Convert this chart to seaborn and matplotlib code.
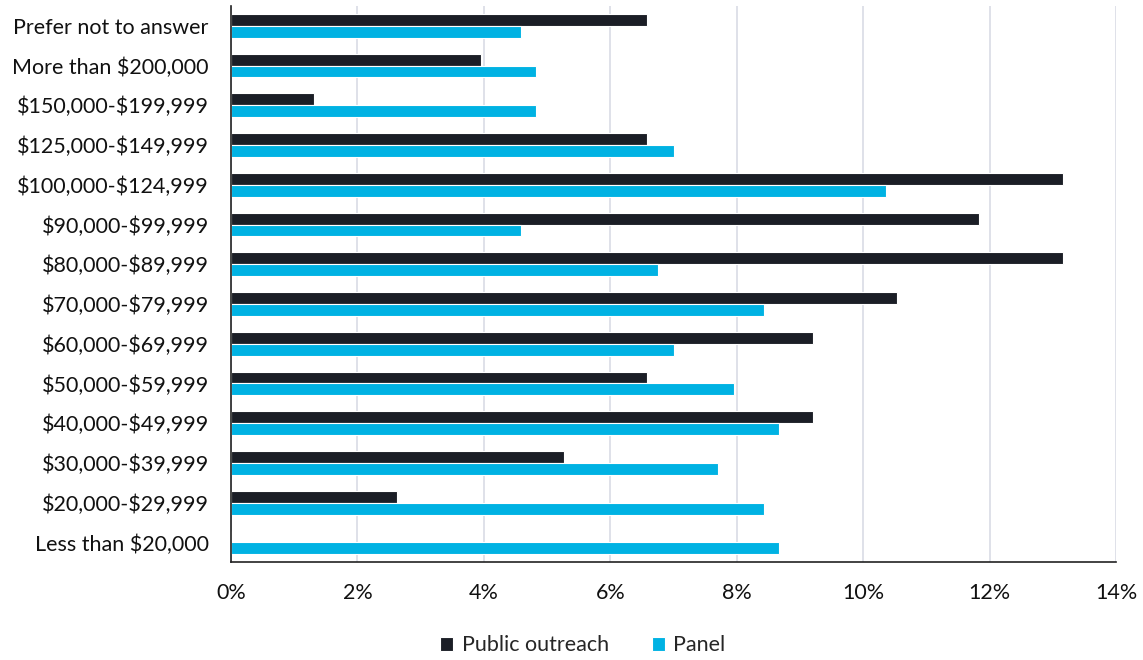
import numpy as np
import pandas as pd
import matplotlib
matplotlib.use("Agg")
import matplotlib.pyplot as plt
import seaborn as sns
from matplotlib.ticker import FuncFormatter

# income brackets, top to bottom as drawn
categories = [
    "Prefer not to answer",
    "More than $200,000",
    "$150,000-$199,999",
    "$125,000-$149,999",
    "$100,000-$124,999",
    "$90,000-$99,999",
    "$80,000-$89,999",
    "$70,000-$79,999",
    "$60,000-$69,999",
    "$50,000-$59,999",
    "$40,000-$49,999",
    "$30,000-$39,999",
    "$20,000-$29,999",
    "Less than $20,000",
]
public_outreach = [6.58, 3.95, 1.32, 6.58, 13.16, 11.84, 13.16, 10.53, 9.21, 6.58, 9.21, 5.26, 2.63, 0.0]
panel = [4.58, 4.82, 4.82, 7.00, 10.36, 4.58, 6.75, 8.43, 7.00, 7.95, 8.67, 7.71, 8.43, 8.67]
series_names = ["Public outreach", "Panel"]
x_ticks = [0, 2, 4, 6, 8, 10, 12, 14]

sns.set_style("white")
plt.rcParams["font.family"] = ["Lato", "DejaVu Sans"]
plt.rcParams["text.parse_math"] = False  # keep the $ signs literal

df = pd.DataFrame({
    "category": categories * 2,
    "value": public_outreach + panel,
    "series": [series_names[0]] * len(categories) + [series_names[1]] * len(categories),
})

fig = plt.figure(figsize=(11.43, 6.6), dpi=100)
ax = fig.add_axes([0.2021, 0.148, 0.7743, 0.843])

ax.grid(axis="x", color="#d9dbe5", linewidth=1.2, zorder=0)
ax.set_axisbelow(True)

sns.barplot(data=df, y="category", x="value", hue="series", order=categories,
            hue_order=series_names, palette=["#1b1e26", "#00b2e3"],
            orient="h", width=0.6, edgecolor="white", linewidth=0.8,
            saturation=1, ax=ax, legend=True)

ax.set_xlim(0, 14)
ax.set_ylim(len(categories) - 0.5, -0.5)
ax.set_xticks(x_ticks)
ax.xaxis.set_major_formatter(FuncFormatter(lambda v, p: f"{v:.0f}%"))
ax.set_yticks(np.arange(-0.5, len(categories), 1.0), minor=True)
ax.tick_params(axis="y", which="major", length=0, labelsize=15.5, pad=16, colors="#111111")
ax.tick_params(axis="y", which="minor", length=6, width=1.2, color="#222222", direction="out")
ax.tick_params(axis="x", which="major", length=6, width=1.2, color="#222222",
               labelsize=15.5, pad=9, labelcolor="#111111")
ax.set_xlabel("")
ax.set_ylabel("")

for side in ["top", "right"]:
    ax.spines[side].set_visible(False)
for side in ["left", "bottom"]:
    ax.spines[side].set_color("#222222")
    ax.spines[side].set_linewidth(1.2)

handles, labels = ax.get_legend_handles_labels()
ax.get_legend().remove()
fig.legend(handles, labels, loc="center", bbox_to_anchor=(0.51, 0.022), ncol=2,
           frameon=False, fontsize=15.5, handlelength=0.6, handleheight=0.6,
           handletextpad=0.4, columnspacing=2.0)

fig.savefig("out.png", dpi=100)
